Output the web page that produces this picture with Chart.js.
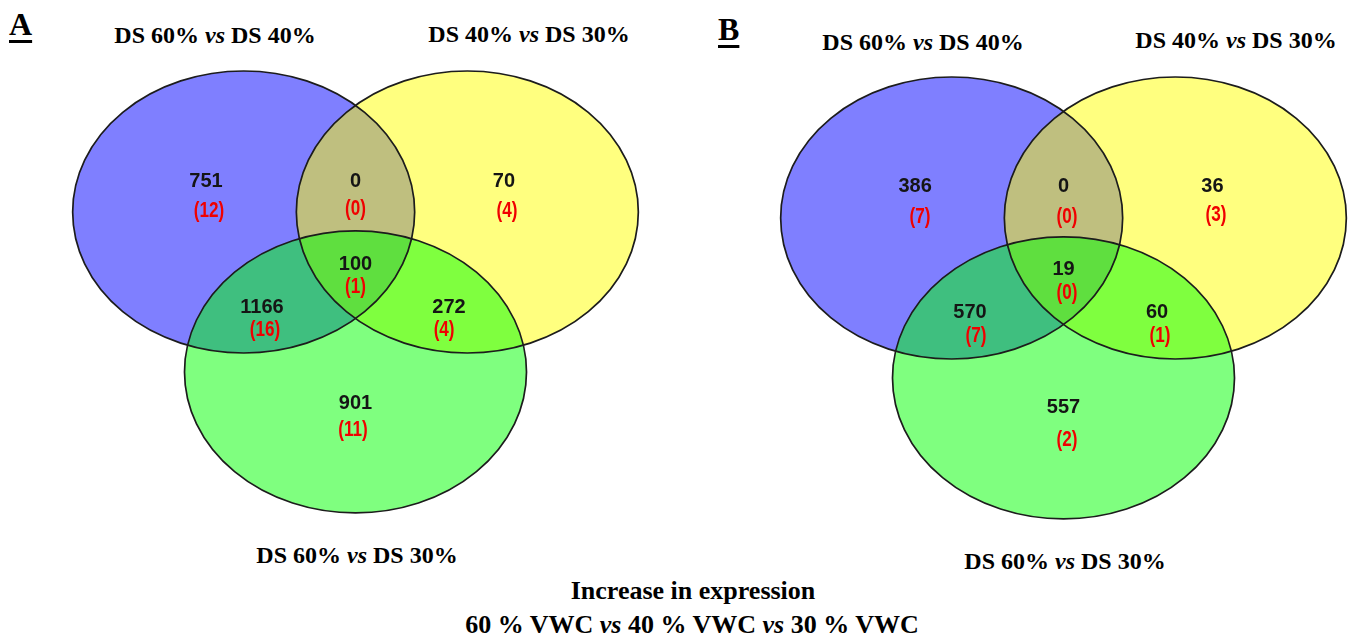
<!DOCTYPE html>
<html lang="en">
<head>
<meta charset="UTF-8">
<title>Increase in expression - Venn diagrams</title>
<script src="https://cdn.jsdelivr.net/npm/chart.js"></script>
<style>
    body {
        margin: 0;
        width: 1355px;
        height: 639px;
        position: relative;
        overflow: hidden;
        background: #fff;
        font-family: "Liberation Serif", "Times New Roman", serif;
    }
    .txt {
        position: absolute;
        font-weight: bold;
        line-height: 1;
        white-space: nowrap;
        color: #000;
    }
    .c { transform: translateX(-50%); }
    .letter {
        font-size: 32px;
        text-decoration: underline;
        text-decoration-thickness: 3px;
        text-underline-offset: 5px;
    }
    .set { font-size: 24px; }
    .cap { font-size: 26px; }
    canvas { position: absolute; }
</style>
</head>
<body>
    <div class="txt letter" style="left:9px; top:8px;">A</div>
    <div class="txt letter" style="left:718px; top:13px;">B</div>

    <div class="txt set c" id="tA0" style="left:215px; top:23px;"></div>
    <div class="txt set c" id="tA1" style="left:529px; top:22px;"></div>
    <div class="txt set c" id="tA2" style="left:357px; top:543px;"></div>
    <div class="txt set c" id="tB0" style="left:923px; top:30px;"></div>
    <div class="txt set c" id="tB1" style="left:1236px; top:28px;"></div>
    <div class="txt set c" id="tB2" style="left:1065px; top:549px;"></div>

    <div class="txt cap c" style="left:693px; top:578px;">Increase in expression</div>
    <div class="txt cap c" style="left:692px; top:612px;">60 % VWC <i>vs</i> 40 % VWC <i>vs</i> 30 % VWC</div>

    <canvas id="vennA" width="700" height="500" style="left:0px; top:50px;"></canvas>
    <canvas id="vennB" width="647" height="500" style="left:708px; top:56px;"></canvas>

<script>
// sets being compared
const setLabels = ['DS 60% vs DS 40%', 'DS 40% vs DS 30%', 'DS 60% vs DS 30%'];
const setColors = ['#0000ff', '#ffff00', '#00ff00'];

// regions: 1 only, 1&2, 2 only, 1&2&3, 1&3, 2&3, 3 only
const regions = ['S1', 'S1S2', 'S2', 'S1S2S3', 'S1S3', 'S2S3', 'S3'];

// panel A
const countsA = [751, 0, 70, 100, 1166, 272, 901];
const subA = [12, 0, 4, 1, 16, 4, 11];

// panel B
const countsB = [386, 0, 36, 19, 570, 60, 557];
const subB = [7, 0, 3, 0, 7, 1, 2];

// venn layout in circle units (radius 1), origin at the middle of the three centres
const centers = [[-0.654, 0.378], [0.654, 0.378], [0, -0.756]];
const radius = 1;
const countPosA = [[-0.874, 0.591], [0, 0.591], [0.868, 0.591], [0, 0.009], [-0.547, -0.296], [0.547, -0.296], [0, -0.977]];
const subPosA = [[-0.857, 0.385], [0, 0.399], [0.886, 0.385], [0, -0.154], [-0.529, -0.459], [0.518, -0.459], [-0.015, -1.168]];
const countPosB = [[-0.868, 0.599], [0, 0.599], [0.871, 0.599], [0, 0.011], [-0.547, -0.294], [0.547, -0.294], [0, -0.968]];
const subPosB = [[-0.839, 0.387], [0.02, 0.387], [0.892, 0.401], [0.02, -0.152], [-0.512, -0.457], [0.564, -0.457], [0.02, -1.195]];

// pixels per unit and where the origin sits inside each canvas
const pxX = 171, pxY = 141;
const originX = 355.5, originY = 215.3;

// set titles with italic "vs"
['A', 'B'].forEach(function (p) {
    setLabels.forEach(function (s, i) {
        document.getElementById('t' + p + i).innerHTML = s.replace(' vs ', ' <i>vs</i> ');
    });
});

const vennPlugin = {
    id: 'venn',
    beforeDatasetsDraw(chart, args, opts) {
        const ctx = chart.ctx;
        const x = chart.scales.x, y = chart.scales.y;
        const rx = Math.abs(x.getPixelForValue(radius) - x.getPixelForValue(0));
        const ry = Math.abs(y.getPixelForValue(radius) - y.getPixelForValue(0));
        const pts = centers.map(c => [x.getPixelForValue(c[0]), y.getPixelForValue(c[1])]);

        ctx.save();
        ctx.globalAlpha = 0.5;
        pts.forEach(function (p, i) {
            ctx.beginPath();
            ctx.ellipse(p[0], p[1], rx, ry, 0, 0, Math.PI * 2);
            ctx.fillStyle = setColors[i];
            ctx.fill();
        });
        ctx.globalAlpha = 1;
        ctx.lineWidth = 1.7;
        ctx.strokeStyle = '#1c1c1c';
        pts.forEach(function (p) {
            ctx.beginPath();
            ctx.ellipse(p[0], p[1], rx, ry, 0, 0, Math.PI * 2);
            ctx.stroke();
        });

        ctx.textAlign = 'center';
        ctx.textBaseline = 'middle';
        ctx.font = 'bold 20px "Liberation Sans", Arial, sans-serif';
        ctx.fillStyle = '#151515';
        opts.counts.forEach(function (v, i) {
            ctx.fillText(String(v), x.getPixelForValue(opts.countPos[i][0]), y.getPixelForValue(opts.countPos[i][1]));
        });
        // red numbers are a bit taller/narrower in the original
        ctx.font = 'bold 18px "Liberation Sans", Arial, sans-serif';
        ctx.fillStyle = '#f00000';
        opts.sub.forEach(function (v, i) {
            const px = x.getPixelForValue(opts.subPos[i][0]);
            const py = y.getPixelForValue(opts.subPos[i][1]);
            ctx.save();
            ctx.translate(px, py);
            ctx.scale(0.95, 1.18);
            ctx.fillText('(' + v + ')', 0, 0);
            ctx.restore();
        });
        ctx.restore();
    }
};

function makeVenn(id, counts, sub, countPos, subPos) {
    const cv = document.getElementById(id);
    const w = cv.width, h = cv.height;
    return new Chart(cv.getContext('2d'), {
        type: 'scatter',
        data: {
            labels: setLabels,
            datasets: [{
                label: 'set centres',
                data: centers.map(c => ({ x: c[0], y: c[1] })),
                pointRadius: 0,
                pointHoverRadius: 0
            }]
        },
        options: {
            responsive: false,
            animation: false,
            events: [],
            layout: { padding: 0 },
            plugins: {
                legend: { display: false },
                tooltip: { enabled: false },
                venn: { counts: counts, sub: sub, countPos: countPos, subPos: subPos }
            },
            scales: {
                x: { type: 'linear', display: false, min: -originX / pxX, max: (w - originX) / pxX },
                y: { type: 'linear', display: false, min: -(h - originY) / pxY, max: originY / pxY }
            }
        },
        plugins: [vennPlugin]
    });
}

makeVenn('vennA', countsA, subA, countPosA, subPosA);
makeVenn('vennB', countsB, subB, countPosB, subPosB);
</script>
</body>
</html>
